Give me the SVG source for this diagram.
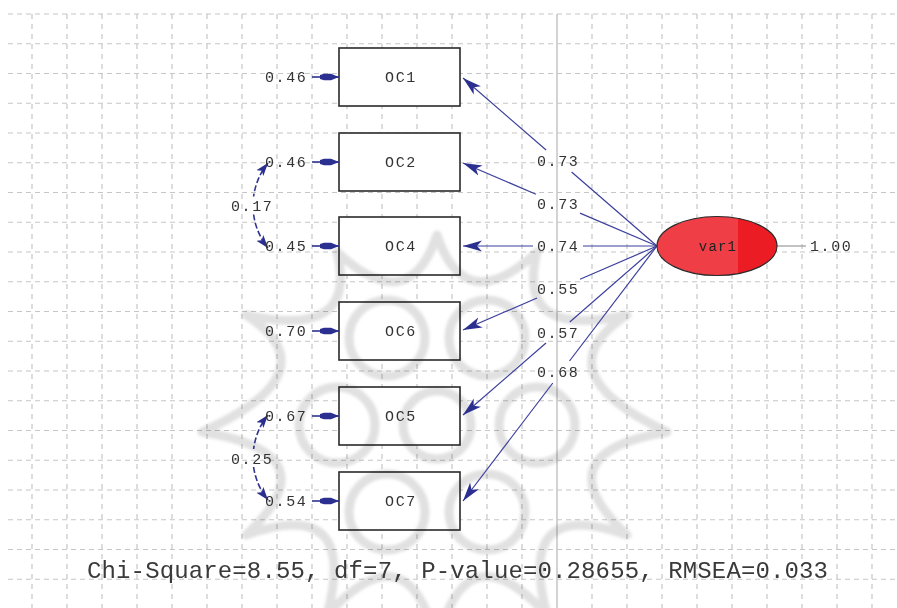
<svg xmlns="http://www.w3.org/2000/svg" width="897" height="608" viewBox="0 0 897 608">
<style>
.grid{stroke:#c6c6c6;stroke-width:1.2;fill:none}
.gh{stroke-dasharray:5 4}
.gv{stroke-dasharray:5 5}
.box{fill:#fff;stroke:#2a2a2a;stroke-width:1.6}
.lbl{font-family:"Liberation Mono","DejaVu Sans Mono",monospace;font-size:15px;letter-spacing:1.6px;fill:#333}
.name{font-family:"Liberation Mono","DejaVu Sans Mono",monospace;font-size:15px;letter-spacing:1.6px;fill:#333;text-anchor:middle}
.load{stroke:#3b3f9c;stroke-width:1.2;fill:none}
.err{stroke:#2e3290;stroke-width:1.6;fill:none}
.cov{stroke:#2e3290;stroke-width:1.6;fill:none;stroke-dasharray:6 2.5}
.wm{stroke:#c8c8c8;stroke-width:9;fill:none;stroke-linecap:round;stroke-linejoin:round}
</style>
<defs>
<marker id="aLoad" markerUnits="userSpaceOnUse" markerWidth="22" markerHeight="14" refX="19" refY="7" orient="auto">
<path d="M0,1.5 L19,7 L0,12.5 L5,7 z" fill="#2b2f8f"/>
</marker>
<marker id="aErr" markerUnits="userSpaceOnUse" markerWidth="22" markerHeight="10" refX="20" refY="5" orient="auto">
<path d="M1,3 L5,1.8 L12,1.8 L20,5 L12,8.2 L5,8.2 L1,7 z" fill="#2b2f8f"/>
</marker>
<marker id="aCov" markerUnits="userSpaceOnUse" markerWidth="15" markerHeight="11" refX="13" refY="5.5" orient="auto-start-reverse">
<path d="M0,1 L13,5.5 L0,10 L3,5.5 z" fill="#2b2f8f"/>
</marker>
<clipPath id="ellClip"><ellipse cx="717" cy="246" rx="60" ry="29.5"/></clipPath>
<filter id="soft" x="-10%" y="-10%" width="120%" height="120%"><feGaussianBlur stdDeviation="1.6"/></filter>
</defs>

<rect width="897" height="608" fill="#fff"/>

<g id="grid">
<path class="grid gh" d="M8,14H897M8,43.75H897M8,73.5H897M8,103.25H897M8,133H897M8,162.75H897M8,192.5H897M8,222.25H897M8,252H897M8,281.75H897M8,311.5H897M8,341.25H897M8,371H897M8,400.75H897M8,430.5H897M8,460.25H897M8,490H897M8,519.75H897M8,549.5H897M8,579.25H897"/>
<path class="grid gv" d="M32,14V608M67,14V608M102,14V608M137,14V608M172,14V608M207,14V608M242,14V608M277,14V608M312,14V608M347,14V608M382,14V608M417,14V608M452,14V608M487,14V608M522,14V608M592,14V608M627,14V608M662,14V608M697,14V608M732,14V608M767,14V608M802,14V608M837,14V608M872,14V608"/>
<path d="M557,14V608" stroke="#c8c8c8" stroke-width="1.6" fill="none"/>
</g>

<g id="OC1"><rect class="box" x="339" y="48" width="121" height="58"/><text class="name" x="401" y="82">OC1</text></g>
<g id="OC2"><rect class="box" x="339" y="133" width="121" height="58"/><text class="name" x="401" y="167">OC2</text></g>
<g id="OC4"><rect class="box" x="339" y="217" width="121" height="58"/><text class="name" x="401" y="251">OC4</text></g>
<g id="OC6"><rect class="box" x="339" y="302" width="121" height="58"/><text class="name" x="401" y="336">OC6</text></g>
<g id="OC5"><rect class="box" x="339" y="387" width="121" height="58"/><text class="name" x="401" y="421">OC5</text></g>
<g id="OC7"><rect class="box" x="339" y="472" width="121" height="58"/><text class="name" x="401" y="506">OC7</text></g>

<g id="watermark" opacity="0.55" filter="url(#soft)" style="mix-blend-mode:multiply">
<path class="wm" d="M437,235 Q465,319 537,252 Q515,340 627,315 Q540,372 667,432 Q540,453 627,535 Q515,495 547,615 Q465,525 437,645 Q409,525 327,615 Q359,495 246,535 Q334,453 202,432 Q334,372 246,315 Q359,340 337,252 Q409,319 437,235 Z"/>
<circle class="wm" cx="437" cy="425" r="34"/>
<circle class="wm" cx="487" cy="338" r="38"/>
<circle class="wm" cx="537" cy="425" r="38"/>
<circle class="wm" cx="487" cy="512" r="38"/>
<circle class="wm" cx="387" cy="512" r="38"/>
<circle class="wm" cx="337" cy="425" r="38"/>
<circle class="wm" cx="387" cy="338" r="38"/>
</g>

<g id="connectors">
<path class="load" d="M657,246 L571.6,172"/>
<path class="load" d="M546.1,150 L463,78" marker-end="url(#aLoad)"/>
<path class="load" d="M657,246 L580,213.1"/>
<path class="load" d="M536,194.2 L463,163" marker-end="url(#aLoad)"/>
<path class="load" d="M657,246 L583,246"/>
<path class="load" d="M533,246 L463,246" marker-end="url(#aLoad)"/>
<path class="load" d="M657,246 L580,279.3"/>
<path class="load" d="M537,298 L463,330" marker-end="url(#aLoad)"/>
<path class="load" d="M657,246 L569.8,322"/>
<path class="load" d="M546,343 L463,415" marker-end="url(#aLoad)"/>
<path class="load" d="M657,246 L569.5,361"/>
<path class="load" d="M552.8,383 L463,501" marker-end="url(#aLoad)"/>
<path class="err" d="M312,77 H339" marker-end="url(#aErr)"/>
<path class="err" d="M312,162 H339" marker-end="url(#aErr)"/>
<path class="err" d="M312,246 H339" marker-end="url(#aErr)"/>
<path class="err" d="M312,331 H339" marker-end="url(#aErr)"/>
<path class="err" d="M312,416 H339" marker-end="url(#aErr)"/>
<path class="err" d="M312,501 H339" marker-end="url(#aErr)"/>
<path class="cov" d="M268,163 A67.7,67.7 0 0,0 253.6,196.5" marker-start="url(#aCov)"/>
<path class="cov" d="M253.6,214.5 A67.7,67.7 0 0,0 268,248" marker-end="url(#aCov)"/>
<path class="cov" d="M268,415 A67.7,67.7 0 0,0 253.6,449" marker-start="url(#aCov)"/>
<path class="cov" d="M253.6,467 A67.7,67.7 0 0,0 268,500" marker-end="url(#aCov)"/>
<path d="M777,246 H806" stroke="#9a9a9a" stroke-width="1.2" fill="none"/>
</g>

<g id="var1">
<ellipse cx="717" cy="246" rx="60" ry="29.5" fill="#ef3e46"/>
<rect x="738" y="210" width="45" height="72" fill="#ec1c24" clip-path="url(#ellClip)"/>
<ellipse cx="717" cy="246" rx="60" ry="29.5" fill="none" stroke="#2a2a2a" stroke-width="1.2"/>
<text x="718" y="251" font-family="'Liberation Mono','DejaVu Sans Mono',monospace" font-size="14" letter-spacing="1.2" fill="#222" text-anchor="middle">var1</text>
</g>

<g id="labels">
<text class="lbl" x="265" y="82">0.46</text>
<text class="lbl" x="265" y="167">0.46</text>
<text class="lbl" x="265" y="251">0.45</text>
<text class="lbl" x="265" y="336">0.70</text>
<text class="lbl" x="265" y="421">0.67</text>
<text class="lbl" x="265" y="506">0.54</text>
<text class="lbl" x="231" y="211">0.17</text>
<text class="lbl" x="231" y="464">0.25</text>
<text class="lbl" x="537" y="166">0.73</text>
<text class="lbl" x="537" y="209">0.73</text>
<text class="lbl" x="537" y="251">0.74</text>
<text class="lbl" x="537" y="294">0.55</text>
<text class="lbl" x="537" y="338">0.57</text>
<text class="lbl" x="537" y="377">0.68</text>
<text class="lbl" x="810" y="251">1.00</text>
<text x="87" y="578" font-family="'Liberation Mono','Courier New',monospace" font-size="24" fill="#3a3a3a" textLength="741" lengthAdjust="spacing">Chi-Square=8.55, df=7, P-value=0.28655, RMSEA=0.033</text>
</g>
</svg>
